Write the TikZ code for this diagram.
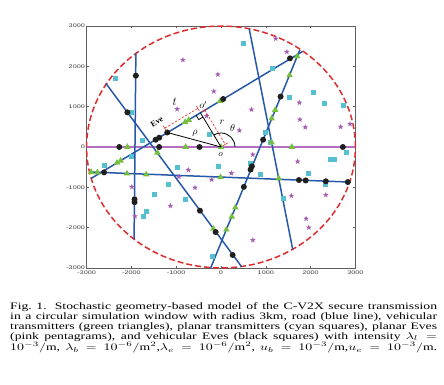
\documentclass[tikz,border=0pt]{standalone}
\usepackage{graphicx}
\usepackage{fontspec}
\setmainfont{Liberation Serif}
\newfontfamily\tickfont{Liberation Sans}
\usetikzlibrary{shapes.geometric,calc}

\definecolor{roadblue}{RGB}{38,88,168}
\definecolor{roadpurple}{RGB}{180,112,192}
\definecolor{circred}{RGB}{222,45,45}
\definecolor{trigreen}{RGB}{118,190,62}
\definecolor{sqcyan}{RGB}{84,192,208}
\definecolor{starpink}{RGB}{165,95,178}
\definecolor{framegray}{RGB}{95,95,95}

\begin{document}
\begin{tikzpicture}
    \tikzstyle{road_line} = [roadblue, line width=1.5pt]
    \tikzstyle{main_road} = [roadpurple, line width=1.6pt]
    \tikzstyle{window_circle} = [circred, line width=1.5pt, dash pattern=on 6pt off 3pt]
    \tikzstyle{veh_eve} = [circle, fill=black!88, inner sep=0pt, minimum size=6pt]
    \tikzstyle{veh_tx} = [regular polygon, regular polygon sides=3, fill=trigreen, inner sep=0pt, minimum size=7.5pt]
    \tikzstyle{plan_tx} = [rectangle, fill=sqcyan, inner sep=0pt, minimum size=5pt]
    \tikzstyle{plan_eve} = [star, star points=5, star point ratio=2.4, fill=starpink, inner sep=0pt, minimum size=6pt]
    \tikzstyle{tick_label} = [font=\tickfont\fontsize{5.2}{6}\selectfont, text=black!75, xscale=1.4, inner sep=1pt]
    \tikzstyle{math_label} = [font=\fontsize{10}{12}\selectfont, inner sep=0pt]
    \tikzstyle{black_line} = [black, line width=0.8pt]
    \tikzstyle{dim_line} = [circred, line width=0.6pt, dash pattern=on 2.5pt off 1.5pt]
    \tikzstyle{dim_tick} = [circred, line width=0.6pt]

    \useasboundingbox (0,0) rectangle (444pt,385pt);

    \begin{scope}[shift={(221pt,238pt)}, x=44.8pt, y=40.3pt]
    % frame and ticks
    \draw[framegray, line width=0.5pt] (-3,-3) rectangle (3,3);
    \foreach \k in {-3,...,3} {
        \pgfmathtruncatemacro{\val}{1000*\k}
        \draw[framegray, line width=0.4pt] (\k,-3) -- ++(0,2pt);
        \draw[framegray, line width=0.4pt] (\k,3) -- ++(0,-2pt);
        \draw[framegray, line width=0.4pt] (-3,\k) -- ++(2pt,0);
        \draw[framegray, line width=0.4pt] (3,\k) -- ++(-2pt,0);
        \node[tick_label, anchor=east] (ylab\val) at (-3,\k) {\val};
        \node[tick_label, anchor=north, yshift=-2pt] (xlab\val) at (\k,-3) {\val};
    }

    % window
    \draw[window_circle] (0,0) circle [radius=3];

    % roads
    \coordinate (rA1) at (-3,0);
    \coordinate (rA2) at (3,0);
    \coordinate (rB1) at (-1.90,2.33);
    \coordinate (rB2) at (-1.94,-2.28);
    \coordinate (rC1) at (-2.57,1.58);
    \coordinate (rC2) at (0.46,-2.97);
    \coordinate (rD1) at (-2.90,-0.78);
    \coordinate (rD2) at (1.82,2.37);
    \coordinate (rE1) at (1.76,2.41);
    \coordinate (rE2) at (-0.23,-3.00);
    \coordinate (rF1) at (0.63,2.93);
    \coordinate (rF2) at (1.60,-2.54);
    \coordinate (rG1) at (-2.93,-0.62);
    \coordinate (rG2) at (2.87,-0.87);

    \draw[main_road] (rA1) -- (rA2);
    \draw[road_line] (rB1) -- (rB2);
    \draw[road_line] (rC1) -- (rC2);
    \draw[road_line] (rD1) -- (rD2);
    \draw[road_line] (rE1) -- (rE2);
    \draw[road_line] (rF1) -- (rF2);
    \draw[road_line] (rG1) -- (rG2);

    % planar transmitters
    \foreach \x/\y [count=\i] in {-2.35/1.71, -1.99/0.86, -1.76/0.16, -0.25/0.31, 0.50/2.57,
        1.15/1.95, 1.54/1.23, 2.07/1.35, 2.30/1.08, 2.73/1.02, 1.00/0.36, 1.10/0.10,
        2.44/-0.30, 2.53/-0.30, 2.80/-0.14, 1.95/-0.65, 0.89/-0.69, 1.39/-1.29, 2.34/-0.93,
        -0.06/-0.49, 0.66/-0.40, -2.61/-0.46, -2.00/-0.24, -0.96/-0.51, -1.17/-0.94,
        -1.48/-1.19, -0.79/-1.30, -1.66/-1.59, -1.74/-1.73, -0.19/-2.72}
        \node[plan_tx] (pt\i) at (\x,\y) {};

    % planar eves
    \foreach \x/\y [count=\i] in {-0.85/2.16, -0.07/1.80, -0.16/1.38, -0.98/0.94, -0.32/0.77,
        0.41/0.41, 1.22/2.69, 1.47/2.36, 0.68/0.93, 1.75/1.10, 1.76/0.68, 1.88/0.49,
        2.67/0.50, 2.88/0.57, -0.73/-0.57, -0.94/-0.74, -0.21/-0.81, -1.99/-0.99,
        -0.58/-1.01, -1.13/-1.46, -1.92/-1.72, 0.23/-0.65, 0.71/-0.19, 1.71/-0.36,
        1.57/-1.21, 2.34/-1.19, 1.90/-1.78, 1.96/-2.00, 0.71/-2.31}
        \node[plan_eve] (pe\i) at (\x,\y) {};

    % vehicular transmitters
    \foreach \x/\y [count=\i] in {-2.09/0, -0.79/0, 0/0, 1.58/0,
        -0.80/0.62, -0.72/0.67, -0.02/1.14, -2.32/-0.39, -2.24/-0.34,
        -1.42/-0.14, -0.17/-2.03,
        1.70/2.25, 1.53/1.78, 1.21/0.92, 1.13/0.71, 0.32/-1.50, 0.24/-1.73, 0.12/-2.05,
        1.13/0.11, 1.29/-0.78,
        -2.90/-0.62, -2.76/-0.63, -2.10/-0.66, -1.67/-0.68, -0.01/-0.75}
        \node[veh_tx] (vt\i) at (\x,\y) {};

    % vehicular eves
    \foreach \x/\y [count=\i] in {-1.90/1.77, -2.09/0.86, -1.38/0.23, -1.46/0.18,
        -2.27/0, -1.38/0, -0.48/0, 2.72/0, 0.05/1.19, 1.54/2.20, 1.33/1.25, 0.94/0.18,
        -2.61/-0.63, -1.93/-1.30, -1.93/-1.37, -0.47/-1.58, -0.12/-2.11,
        0.69/-0.48, 0.66/-0.56, 0.51/-0.99, 1.74/-0.82, 1.89/-0.83, 2.34/-0.85,
        2.83/-0.87, 0.26/-2.68}
        \node[veh_eve] (ve\i) at (\x,\y) {};
    \node[veh_eve] (eve) at (-1.20,0.36) {};

    % geometry of the typical eve
    \coordinate (O) at (0,0);
    \coordinate (Op) at (-0.46,0.85);
    \draw[black_line] (eve.center) -- (O);
    \draw[black_line] (Op) -- (O);
    \coordinate (ra1) at ($(Op)!5pt!(eve.center)$);
    \coordinate (ra2) at ($(Op)!5pt!(O)$);
    \draw[black_line] (ra1) -- ($(ra1)+(ra2)-(Op)$) -- (ra2);
    \draw[black_line] ([shift={(0:14pt)}]O) arc [start angle=0, end angle=121, radius=14pt];

    \draw[dim_line] ($(eve.center)!5pt!90:(Op)$) -- ($(Op)!5pt!-90:(eve.center)$);
    \draw[dim_tick] ($(eve.center)!2pt!90:(Op)$) -- ($(eve.center)!8pt!90:(Op)$);
    \draw[dim_tick] ($(Op)!2pt!-90:(eve.center)$) -- ($(Op)!8pt!-90:(eve.center)$);
    \draw[dim_line] ($(Op)!5pt!90:(O)$) -- ($(O)!5pt!-90:(Op)$);
    \draw[dim_tick] ($(Op)!2pt!90:(O)$) -- ($(Op)!8pt!90:(O)$);
    \draw[dim_tick] ($(O)!2pt!-90:(Op)$) -- ($(O)!8pt!-90:(Op)$);

    \node[math_label, font=\fontsize{12}{14}\selectfont] (tlab) at (-1.03,1.12) {$t$};
    \node[math_label] (oplab) at (-0.40,1.04) {$o'$};
    \node[math_label] (rlab) at (0.02,0.60) {$r$};
    \node[math_label] (thlab) at (0.26,0.46) {$\theta$};
    \node[math_label] (rholab) at (-0.58,0.34) {$\rho$};
    \node[math_label, font=\fontsize{9}{11}\selectfont] (olab) at (-0.01,-0.20) {$o$};
    \node[font=\bfseries\fontsize{8}{10}\selectfont, rotate=31, inner sep=0pt] (evelab) at (-1.43,0.62) {Eve};
    \end{scope}

    % caption
    \node[anchor=base west, inner sep=0pt] (caption) at (10pt,75.7pt) {\scalebox{1.395}[1]{\parbox[t]{306pt}{%
        \fontsize{9.8}{10}\selectfont\parfillskip=0pt
        Fig.~1.\hspace{0.6em}Stochastic geometry-based model of the C-V2X secure transmission\linebreak
        in a circular simulation window with radius 3km, road (blue line), vehicular\linebreak
        transmitters (green triangles), planar transmitters (cyan squares), planar Eves\linebreak
        (pink pentagrams), and vehicular Eves (black squares) with intensity $\lambda_l=$\linebreak
        $10^{-3}/\mathrm{m}$, $\lambda_b=10^{-6}/\mathrm{m}^2$,$\lambda_e=10^{-6}/\mathrm{m}^2$, $u_b=10^{-3}/\mathrm{m}$,$u_e=10^{-3}/\mathrm{m}$.}}};
\end{tikzpicture}
\end{document}
